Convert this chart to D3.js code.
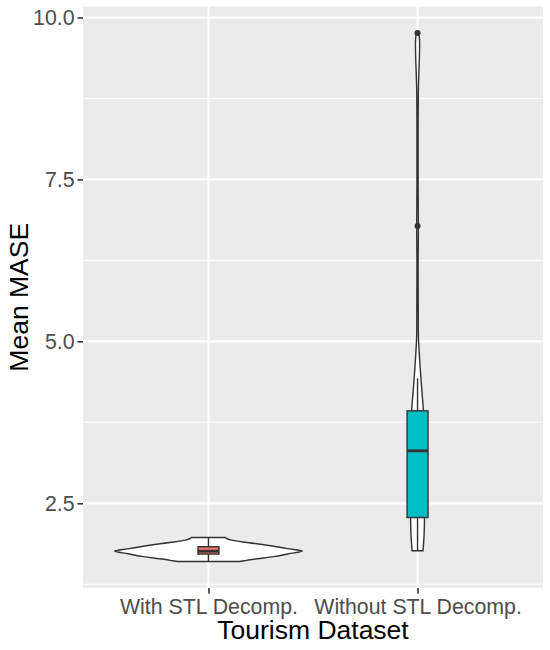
<!DOCTYPE html>
<html>
<head>
<meta charset="utf-8">
<script src="https://cdn.jsdelivr.net/npm/d3@7"></script>
<style>
  body { margin: 0; background: #fff; }
  text { font-family: "Liberation Sans", Arial, sans-serif; }
</style>
</head>
<body>
<div class="chart-box"></div>
<script>
// categories and box stats
let categories = ["With STL Decomp.", "Without STL Decomp."];
let boxFill = ["#F8766D", "#00BFC4"];
let whiskerLow = [1.60, 1.767];
let q1 = [1.716, 2.28];
let medians = [1.76, 3.31];
let q3 = [1.829, 3.927];
let whiskerHigh = [1.972, 4.43];
let outliers = [[], [6.78, 9.76]];

// violin outlines (value, relative density)
let violinWithValues = [1.60, 1.612, 1.628, 1.652, 1.676, 1.72, 1.762, 1.80, 1.86, 1.898, 1.932, 1.952, 1.972];
let violinWithDensity = [0.33, 0.38, 0.44, 0.57, 0.69, 0.85, 1.0, 0.84, 0.59, 0.39, 0.245, 0.2, 0.18];
let violinWithoutValues = [1.767, 2.0, 2.28, 2.7, 3.1, 3.5, 3.93, 4.2, 4.45, 4.8, 5.13, 5.6, 6.2, 6.78, 7.4, 8.2, 8.8, 9.1, 9.4, 9.6, 9.76];
let violinWithoutDensity = [0.058, 0.069, 0.074, 0.074, 0.072, 0.067, 0.062, 0.048, 0.035, 0.019, 0.0085, 0.0074, 0.0065, 0.009, 0.0065, 0.0065, 0.008, 0.013, 0.02, 0.022, 0.015];

let yTicks = [2.5, 5.0, 7.5, 10.0];
let yMinor = [1.25, 3.75, 6.25, 8.75];

let width = 550, height = 650;
let panel = { left: 83, right: 543, top: 6.6, bottom: 588 };

let svg = d3.select('.chart-box')
  .append('svg')
  .attr('width', width)
  .attr('height', height);

// y range of all data, expanded 5%
let lo = d3.min(violinWithValues.concat(violinWithoutValues));
let hi = d3.max(violinWithValues.concat(violinWithoutValues, outliers[1]));
let pad = (hi - lo) * 0.05;

let y = d3.scaleLinear()
  .domain([lo - pad, hi + pad])
  .range([panel.bottom, panel.top]);

// discrete x with 0.6 expansion each side
let x = d3.scalePoint()
  .domain(categories)
  .range([panel.left, panel.right])
  .padding(0.6);
let step = x.step();

//panel background
svg.append('rect')
  .attr('x', panel.left)
  .attr('y', panel.top)
  .attr('width', panel.right - panel.left)
  .attr('height', panel.bottom - panel.top)
  .attr('fill', '#EBEBEB');

//grid
let grid = svg.append('g').attr('stroke', '#fff');
grid.selectAll('.minor')
  .data(yMinor.filter(function (d) { return y(d) < panel.bottom && y(d) > panel.top; }))
  .enter()
  .append('line')
  .attr('x1', panel.left).attr('x2', panel.right)
  .attr('y1', function (d) { return y(d); })
  .attr('y2', function (d) { return y(d); })
  .attr('stroke-width', 1.1);
grid.selectAll('.major')
  .data(yTicks)
  .enter()
  .append('line')
  .attr('x1', panel.left).attr('x2', panel.right)
  .attr('y1', function (d) { return y(d); })
  .attr('y2', function (d) { return y(d); })
  .attr('stroke-width', 2.2);
grid.selectAll('.vmajor')
  .data(categories)
  .enter()
  .append('line')
  .attr('y1', panel.top).attr('y2', panel.bottom)
  .attr('x1', function (d) { return x(d); })
  .attr('x2', function (d) { return x(d); })
  .attr('stroke-width', 2.2);

//violins
let violinData = [
  d3.zip(violinWithValues, violinWithDensity),
  d3.zip(violinWithoutValues, violinWithoutDensity)
];
let halfMax = 0.45 * step;

svg.append('g')
  .selectAll('path')
  .data(violinData)
  .enter()
  .append('path')
  .attr('d', function (pts, i) {
    let cx = x(categories[i]);
    return d3.area()
      .curve(d3.curveMonotoneY)
      .y(function (p) { return y(p[0]); })
      .x0(function (p) { return cx - p[1] * halfMax; })
      .x1(function (p) { return cx + p[1] * halfMax; })(pts);
  })
  .attr('fill', '#fff')
  .attr('stroke', '#333333')
  .attr('stroke-width', 1.42);

//boxplots
let boxW = 0.1 * step;
let boxes = svg.append('g')
  .selectAll('g')
  .data(categories)
  .enter()
  .append('g');

boxes.append('line')
  .attr('x1', function (d) { return x(d); })
  .attr('x2', function (d) { return x(d); })
  .attr('y1', function (d, i) { return y(whiskerLow[i]); })
  .attr('y2', function (d, i) { return y(whiskerHigh[i]); })
  .attr('stroke', '#333333')
  .attr('stroke-width', 1.42);

boxes.append('rect')
  .attr('x', function (d) { return x(d) - boxW / 2; })
  .attr('width', boxW)
  .attr('y', function (d, i) { return y(q3[i]); })
  .attr('height', function (d, i) { return y(q1[i]) - y(q3[i]); })
  .attr('fill', function (d, i) { return boxFill[i]; })
  .attr('stroke', '#333333')
  .attr('stroke-width', 1.42);

boxes.append('line')
  .attr('x1', function (d) { return x(d) - boxW / 2; })
  .attr('x2', function (d) { return x(d) + boxW / 2; })
  .attr('y1', function (d, i) { return y(medians[i]); })
  .attr('y2', function (d, i) { return y(medians[i]); })
  .attr('stroke', '#333333')
  .attr('stroke-width', 2.84);

boxes.selectAll('circle')
  .data(function (d, i) { return outliers[i].map(function (v) { return { c: d, v: v }; }); })
  .enter()
  .append('circle')
  .attr('cx', function (d) { return x(d.c); })
  .attr('cy', function (d) { return y(d.v); })
  .attr('r', 3)
  .attr('fill', '#333333');

//axes
let yAxis = svg.append('g')
  .attr('transform', 'translate(' + panel.left + ',0)')
  .call(d3.axisLeft(y).tickValues(yTicks).tickFormat(d3.format('.1f')).tickSize(5.5).tickPadding(3));
let xAxis = svg.append('g')
  .attr('transform', 'translate(0,' + panel.bottom + ')')
  .call(d3.axisBottom(x).tickSize(5.5).tickPadding(5));

[yAxis, xAxis].forEach(function (ax) {
  ax.select('.domain').remove();
  ax.selectAll('.tick line').attr('stroke', '#333333').attr('stroke-width', 1.6);
  ax.selectAll('.tick text')
    .attr('fill', '#4D4D4D')
    .style('font-size', '21.3px')
    .style('font-family', '"Liberation Sans", Arial, sans-serif');
});

//titles
svg.append('text')
  .attr('x', (panel.left + panel.right) / 2)
  .attr('y', 639)
  .attr('text-anchor', 'middle')
  .style('font-size', '26.5px')
  .attr('fill', '#000')
  .text('Tourism Dataset');

svg.append('text')
  .attr('transform', 'translate(28,' + (panel.top + panel.bottom) / 2 + ') rotate(-90)')
  .attr('text-anchor', 'middle')
  .style('font-size', '26.5px')
  .attr('fill', '#000')
  .text('Mean MASE');
</script>
</body>
</html>
